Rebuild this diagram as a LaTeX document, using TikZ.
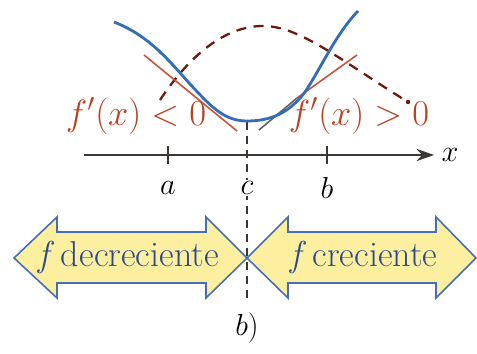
\documentclass[tikz,border=0pt]{standalone}
\usepackage{amsmath}
\usetikzlibrary{arrows.meta}
\definecolor{curveblue}{RGB}{50,110,180}
\definecolor{tanred}{RGB}{200,80,60}
\definecolor{labelred}{RGB}{185,65,35}
\definecolor{derivred}{RGB}{110,25,10}
\definecolor{axisgray}{RGB}{60,55,50}
\definecolor{bannerfill}{RGB}{252,240,160}
\definecolor{bannerline}{RGB}{70,110,180}
\definecolor{bannertext}{RGB}{45,75,140}

\begin{document}
\begin{tikzpicture}[x=0.02cm,y=-0.02cm,
		fcurve/.style={curveblue,line width=1.6pt},
		tangent/.style={tanred,line width=0.9pt},
		dcurve/.style={derivred,line width=1.3pt,dash pattern=on 0.2cm off 0.15cm},
		axis/.style={axisgray,line width=0.85pt,-{Stealth[length=10pt,width=7pt]}},
		tick/.style={axisgray,line width=0.85pt},
		guide/.style={axisgray,line width=0.8pt,dash pattern=on 0.16cm off 0.12cm},
		banner/.style={draw=bannerline,fill=bannerfill,line width=0.9pt,line join=miter},
		lbl/.style={font=\fontsize{18}{20}\selectfont,inner sep=1pt},
		slope/.style={lbl,text=labelred,font=\fontsize{21}{23}\selectfont},
		btext/.style={font=\fontsize{20.5}{23}\selectfont,text=bannertext}]
	\useasboundingbox (0,0) rectangle (477,354);
	% banners
	\draw[banner] (14,258) -- (57,217) -- (57,232) -- (206,232) -- (206,217) -- (247,258)
		-- (206,298) -- (206,283) -- (57,283) -- (57,298) -- cycle;
	\draw[banner] (247,258) -- (288,217) -- (288,232) -- (436,232) -- (436,217) -- (476,258)
		-- (436,298) -- (436,283) -- (288,283) -- (288,298) -- cycle;
	\node[btext] (dec) at (129,257) {\textit{f}\,decreciente};
	\node[btext] (cre) at (364,257) {\textit{f}\,creciente};
	% x axis
	\coordinate (ax0) at (84,155);
	\coordinate (ax1) at (434,155);
	\draw[axis] (ax0) -- (ax1);
	\node[lbl] (xl) at (450,155) {$x$};
	\foreach \px/\nm in {168/a,327/b}{
		\draw[tick] (\px,146) -- (\px,164);
		\node[lbl] (t\nm) at (\px,188) {$\nm$};
	}
	% critical point
	\coordinate (cmin) at (247,122);
	\coordinate (cbot) at (247,303);
	\draw[guide] (cmin) -- (cbot);
	\node[lbl,fill=white] (tc) at (247,188) {$c$};
	% derivative sketch
	\coordinate (dbeg) at (160,100);
	\coordinate (dtop) at (263,26);
	\coordinate (dend) at (408,102);
	\draw[dcurve] (dbeg) .. controls (190,55) and (225,26) .. (dtop)
		.. controls (300,26) and (340,60) .. (dend);
	\fill[derivred] (dend) circle (2.2);
	% tangents
	\coordinate (tl0) at (144,55);
	\coordinate (tl1) at (237,131);
	\coordinate (tr0) at (259,130);
	\coordinate (trm) at (297,98);
	\coordinate (tr1) at (357,55);
	\draw[tangent] (tl0) -- (tl1);
	\draw[tangent,axisgray!80] (tr0) -- (trm);
	\draw[tangent] (trm) -- (tr1);
	% function
	\coordinate (fbeg) at (114,22);
	\coordinate (fmin) at (247,121);
	\coordinate (fend) at (358,11);
	\draw[fcurve] (fbeg) .. controls (150,36) and (170,62) .. (190,84)
		.. controls (212,108) and (225,121) .. (fmin)
		.. controls (272,121) and (290,112) .. (305,92)
		.. controls (320,70) and (335,35) .. (fend);
	\node[slope] (neg) at (136,116) {$f'(x) < 0$};
	\node[slope] (pos) at (359,116) {$f'(x) > 0$};
	\node[lbl] (cap) at (247,328) {$b)$};
\end{tikzpicture}
\end{document}
